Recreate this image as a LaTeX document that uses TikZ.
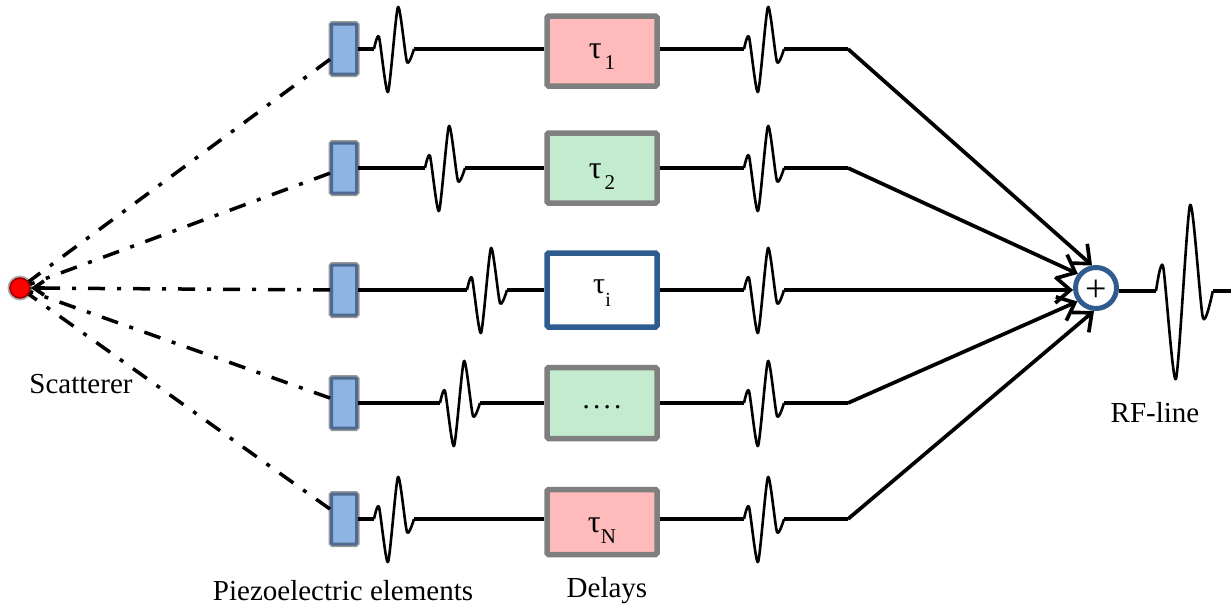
\documentclass[tikz,border=0pt]{standalone}
\usepackage{fontspec}
\setmainfont{Liberation Serif}
\usetikzlibrary{arrows.meta,calc,positioning}
\definecolor{elemblue}{HTML}{8DB4E2}
\definecolor{elemedge}{HTML}{4F6A8F}
\definecolor{edgegray}{HTML}{7F7F7F}
\definecolor{sumblue}{HTML}{2F5C8F}
\definecolor{delayred}{HTML}{FFBBBB}
\definecolor{delaygreen}{HTML}{C3EBCF}
\newcommand{\tausub}[2]{\smash{\raisebox{-#1pt}{\fontsize{32}{32}\selectfont τ\raisebox{-11pt}{\fontsize{21}{22}\selectfont #2}}}}
\tikzset{
  every node/.style={font=\fontsize{29}{32}\selectfont},
  signal/.style={line width=3.7pt,black},
  element/.style={draw=elemedge,line width=3pt,fill=elemblue,minimum width=25pt,minimum height=50pt,inner sep=0pt,rounded corners=1pt,
    preaction={draw=edgegray!80,line width=6pt}},
  delaybox/.style={draw=edgegray,line width=5.5pt,minimum width=110pt,inner sep=0pt,rounded corners=1.5pt},
  echo/.style={line width=3.5pt,dash pattern=on 17pt off 12pt on 4pt off 12pt},
  summed/.style={signal,-{Straight Barb[length=15pt,width=26pt]}},
  pics/wavelet/.style={code={
    \coordinate (-in) at (0,0);
    \coordinate (-out) at (40,0);
    \draw[line width=2.6pt,line join=round] plot[smooth,tension=.4] coordinates {(0,0) (5,-12) (14,43) (24,-42) (33,13) (40,0)};
  }}
}
\begin{document}
\begin{tikzpicture}[x=1pt,y=-1pt]
  \useasboundingbox (0,0) rectangle (1231,605);
  % scatterer
  \node[circle,draw=red!60!black,line width=1.5pt,fill=red,minimum size=20pt,inner sep=0pt,
    preaction={draw=gray!60,line width=5pt}] (scatter) at (20,288) {};
  \node (scatterlabel) at (81,384) {Scatterer};
  % summing point
  \node[circle,draw=sumblue,line width=5pt,minimum size=41pt,inner sep=0pt] (sum) at (1096,288) {};
  \node[font=\fontsize{38}{40}\selectfont] (plus) at (1096,291) {+};
  % rows
  \foreach \i/\y/\wx/\by/\bh/\tang/\fillc/\edgec/\lab in {
    1/49/374/51/70/100/delayred/edgegray/{\tausub{7}{\hspace{3pt}1}},
    2/168/425/168/70/142/delaygreen/edgegray/{\tausub{10}{\hspace{3pt}2}},
    3/290/467/290/74/185/white/sumblue/{\smash{\raisebox{-3pt}{\fontsize{30}{30}\selectfont τ\raisebox{-13pt}{\fontsize{20}{20}\selectfont i}}}},
    4/403/440/403/71/216/delaygreen/edgegray/{\smash{\raisebox{-5pt}{.\hspace{3.3pt}.\hspace{3.3pt}.\hspace{3.3pt}.}}},
    5/519/374/522/65/265/delayred/edgegray/{\tausub{10}{N}}}{
    \node[element] (elem\i) at (344,\y) {};
    \pic (left\i) at (\wx,\y) {wavelet};
    \node[delaybox,fill=\fillc,draw=\edgec,minimum height=\bh pt] (delay\i) at (602,\by) {\lab};
    \pic (right\i) at (744,\y) {wavelet};
    \coordinate (bend\i) at (848,\y);
    \draw[echo] (elem\i) -- (scatter);
    \draw[signal] (elem\i) -- (left\i-in);
    \draw[signal] (left\i-out) -- (delay\i.west |- left\i-out);
    \draw[signal] (delay\i.east |- right\i-in) -- (right\i-in);
    \draw[signal] (right\i-out) -- (bend\i);
    \draw[summed] (bend\i) -- (sum.\tang);
  }
  % arrow at the scatterer
  \coordinate (tipstart) at (45,288);
  \draw[signal,-{Straight Barb[length=10pt,width=14pt]}] (tipstart) -- (scatter);
  % RF-line output
  \pic[xscale=1.42,yscale=2.05] (rf) at (1156,291) {wavelet};
  \coordinate (rfend) at (1231,291);
  \draw[signal] (sum.east |- rf-in) -- (rf-in);
  \draw[signal] (rf-out) -- (rfend);
  % captions
  \node (elemlabel) at (343,591) {Piezoelectric elements};
  \node (delaylabel) at (607,591) {Delays};
  \node (rflabel) at (1155,413) {RF-line};
\end{tikzpicture}
\end{document}
